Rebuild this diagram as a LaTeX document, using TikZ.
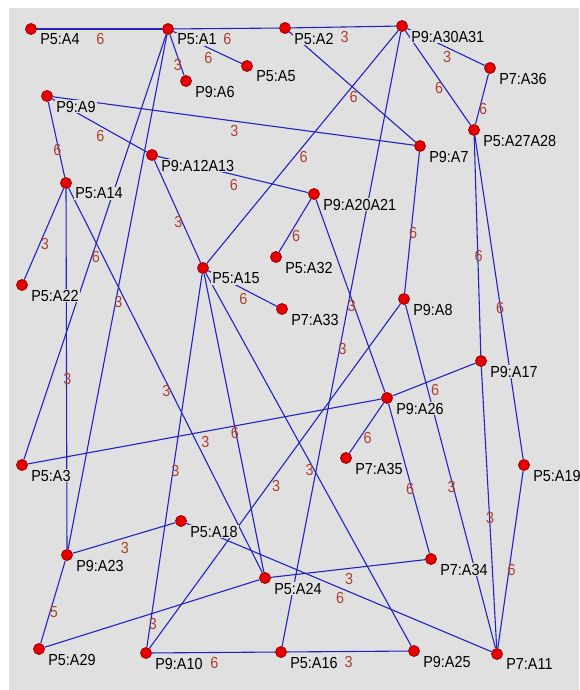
\documentclass[tikz,border=0pt]{standalone}
\usepackage{fontspec}
\setmainfont{Liberation Sans}
\newfontfamily\graphfont[FakeStretch=0.9]{Liberation Sans}
\usepackage{xcolor}
\definecolor{edgeblue}{RGB}{35,35,195}
\definecolor{weightred}{RGB}{176,64,48}
\definecolor{panel}{HTML}{E0E0E0}
\definecolor{dotred}{RGB}{232,0,0}
\definecolor{dotrim}{RGB}{150,0,0}
\pgfdeclarelayer{back}
\pgfdeclarelayer{edges}
\pgfsetlayers{back,edges,main}

\begin{document}
\begin{tikzpicture}[x=1pt, y=-1pt,
  vertex/.style={circle, fill=dotred, draw=dotrim, line width=0.8pt,
    minimum size=11pt, inner sep=0pt},
  tag/.style={fill=panel, inner sep=1pt, xshift=4pt, yshift=0.5pt,
    font=\graphfont\fontsize{16}{18}\selectfont},
  link/.style={draw=edgeblue, line width=1.1pt},
  weight/.style={text=weightred, inner sep=0pt, xshift=1pt, yshift=-10pt,
    font=\graphfont\fontsize{16}{18}\selectfont}
]
\useasboundingbox (0,0) rectangle (579,690);
\begin{pgfonlayer}{back}
  \fill[white] (0,0) rectangle (579,690);
  \fill[panel] (9,8) rectangle (579,690);
\end{pgfonlayer}

% vertices
\node[vertex, label={[tag]-45:{P5:A4}}] (p5a4) at (31,29) {};
\node[vertex, label={[tag]-45:{P5:A1}}] (p5a1) at (168,29) {};
\node[vertex, label={[tag]-45:{P5:A2}}] (p5a2) at (285,28) {};
\node[vertex, label={[tag]-45:{P9:A30A31}}] (p9a30a31) at (402,26) {};
\node[vertex, label={[tag]-45:{P5:A5}}] (p5a5) at (247,66) {};
\node[vertex, label={[tag]-45:{P9:A6}}] (p9a6) at (186,81) {};
\node[vertex, label={[tag]-45:{P7:A36}}] (p7a36) at (490,68) {};
\node[vertex, label={[tag]-45:{P9:A9}}] (p9a9) at (47,96) {};
\node[vertex, label={[tag]-45:{P5:A27A28}}] (p5a27a28) at (474,130) {};
\node[vertex, label={[tag]-45:{P9:A7}}] (p9a7) at (420,146) {};
\node[vertex, label={[tag]-45:{P9:A12A13}}] (p9a12a13) at (152,155) {};
\node[vertex, label={[tag]-45:{P5:A14}}] (p5a14) at (66,183) {};
\node[vertex, label={[tag]-45:{P9:A20A21}}] (p9a20a21) at (314,194) {};
\node[vertex, label={[tag]-45:{P5:A32}}] (p5a32) at (276,257) {};
\node[vertex, label={[tag]-45:{P5:A22}}] (p5a22) at (22,285) {};
\node[vertex, label={[tag]-45:{P5:A15}}] (p5a15) at (203,268) {};
\node[vertex, label={[tag]-45:{P7:A33}}] (p7a33) at (282,309) {};
\node[vertex, label={[tag]-45:{P9:A8}}] (p9a8) at (404,299) {};
\node[vertex, label={[tag]-45:{P9:A17}}] (p9a17) at (481,361) {};
\node[vertex, label={[tag]-45:{P9:A26}}] (p9a26) at (387,398) {};
\node[vertex, label={[tag]-45:{P7:A35}}] (p7a35) at (346,458) {};
\node[vertex, label={[tag]-45:{P5:A3}}] (p5a3) at (22,465) {};
\node[vertex, label={[tag]-45:{P5:A19}}] (p5a19) at (524,465) {};
\node[vertex, label={[tag]-45:{P5:A18}}] (p5a18) at (181,521) {};
\node[vertex, label={[tag]-45:{P9:A23}}] (p9a23) at (67,555) {};
\node[vertex, label={[tag]-45:{P7:A34}}] (p7a34) at (431,559) {};
\node[vertex, label={[tag]-45:{P5:A24}}] (p5a24) at (265,578) {};
\node[vertex, label={[tag]-45:{P5:A29}}] (p5a29) at (39,649) {};
\node[vertex, label={[tag]-45:{P9:A10}}] (p9a10) at (146,653) {};
\node[vertex, label={[tag]-45:{P5:A16}}] (p5a16) at (281,652) {};
\node[vertex, label={[tag]-45:{P9:A25}}] (p9a25) at (414,651) {};
\node[vertex, label={[tag]-45:{P7:A11}}] (p7a11) at (497,654) {};

% weighted links, kept under the vertices and their tags
\begin{pgfonlayer}{edges}
\draw[link] (p5a4) -- node[weight]{6} (p5a1);
\draw[link] (p5a1) -- node[weight]{6} (p5a2);
\draw[link] (p5a2) -- node[weight]{3} (p9a30a31);
\draw[link] (p5a1) -- node[weight]{3} (p9a6);
\draw[link] (p5a1) -- node[weight]{6} (p5a5);
\draw[link] (p5a1) -- node[weight]{6} (p5a3);
\draw[link] (p5a1) -- node[weight]{3} (p9a23);
\draw[link] (p9a30a31) -- node[weight]{3} (p7a36);
\draw[link] (p9a30a31) -- node[weight]{6} (p5a27a28);
\draw[link] (p9a30a31) -- node[weight]{6} (p5a15);
\draw[link] (p9a30a31) -- node[weight]{3} (p5a16);
\draw[link] (p5a2) -- node[weight]{6} (p9a7);
\draw[link] (p7a36) -- node[weight]{6} (p5a27a28);
\draw[link] (p9a9) -- node[weight]{3} (p9a7);
\draw[link] (p9a9) -- node[weight]{6} (p9a12a13);
\draw[link] (p9a9) -- node[weight]{6} (p5a14);
\draw[link] (p9a12a13) -- node[weight]{6} (p9a20a21);
\draw[link] (p9a12a13) -- node[weight]{3} (p5a15);
\draw[link] (p9a20a21) -- node[weight]{6} (p5a32);
\draw[link] (p9a20a21) -- node[weight]{3} (p9a26);
\draw[link] (p9a7) -- node[weight]{6} (p9a8);
\draw[link] (p5a27a28) -- node[weight]{6} (p9a17);
\draw[link] (p5a27a28) -- node[weight]{6} (p5a19);
\draw[link] (p5a14) -- node[weight]{3} (p5a22);
\draw[link] (p5a14) -- node[weight]{3} (p9a23);
\draw[link] (p5a14) -- node[weight]{3} (p5a24);
\draw[link] (p5a15) -- node[weight]{6} (p7a33);
\draw[link] (p5a15) -- node[weight]{3} (p9a10);
\draw[link] (p5a15) -- node[weight]{6} (p5a24);
\draw[link] (p5a15) -- node[weight]{3} (p9a25);
\draw[link] (p9a8) -- node[weight]{3} (p9a10);
\draw[link] (p9a8) -- node[weight]{3} (p7a11);
\draw[link] (p5a3) -- node[weight]{3} (p9a26);
\draw[link] (p9a26) -- node[weight]{6} (p9a17);
\draw[link] (p9a17) -- node[weight]{3} (p7a11);
\draw[link] (p9a26) -- node[weight]{6} (p7a35);
\draw[link] (p9a26) -- node[weight]{6} (p7a34);
\draw[link] (p5a19) -- node[weight]{6} (p7a11);
\draw[link] (p5a18) -- node[weight]{3} (p9a23);
\draw[link] (p5a18) -- node[weight]{6} (p7a11);
\draw[link] (p5a24) -- node[weight]{3} (p7a34);
\draw[link] (p5a24) -- node[weight]{3} (p5a29);
\draw[link] (p9a23) -- node[weight]{5} (p5a29);
\draw[link] (p5a16) -- node[weight]{3} (p9a25);
\draw[link] (p9a10) -- node[weight]{6} (p5a16);
\end{pgfonlayer}
\end{tikzpicture}
\end{document}
